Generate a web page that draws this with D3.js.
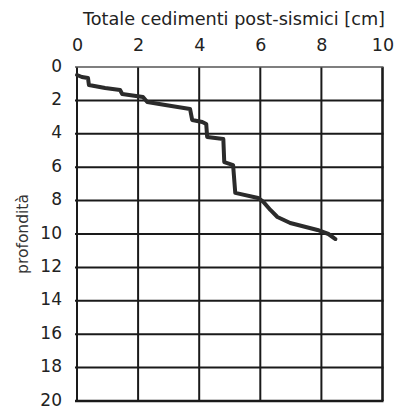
<!DOCTYPE html>
<html>
<head>
<meta charset="utf-8">
<script src="https://cdn.jsdelivr.net/npm/d3@7"></script>
<style>
html,body{margin:0;padding:0;background:#fff;}
svg{display:block;}
</style>
</head>
<body>
<svg id="chart" width="403" height="410"></svg>
<script>
// Data
const xTicks = [0, 2, 4, 6, 8, 10];
const yTicks = [0, 2, 4, 6, 8, 10, 12, 14, 16, 18, 20];
const settlement = [0, 0.16, 0.36, 0.39, 0.92, 1.41, 1.48, 2.16, 2.3, 2.89, 3.7, 3.77, 4.1, 4.23, 4.26, 4.79, 4.82, 5.11, 5.18, 5.93, 6.1, 6.33, 6.56, 6.98, 7.87, 8.23, 8.46];
const depth      = [0.48, 0.6, 0.66, 1.08, 1.26, 1.38, 1.62, 1.8, 2.1, 2.28, 2.51, 3.17, 3.29, 3.41, 4.19, 4.31, 5.69, 5.87, 7.54, 7.84, 8.08, 8.56, 8.98, 9.34, 9.76, 10.0, 10.3];
const xTitle = "Totale cedimenti post-sismici [cm]";
const yTitle = "profondità";

const svg = d3.select("#chart");
const x = d3.scaleLinear().domain([0, 10]).range([77, 382.5]);
const y = d3.scaleLinear().domain([0, 20]).range([67, 401]);

const ink = "#1a1a1a";
const font = "DejaVu Sans, sans-serif";

// grid
const g = svg.append("g");
g.selectAll("line.v").data(xTicks).join("line")
  .attr("x1", d => x(d)).attr("x2", d => x(d))
  .attr("y1", y(0)).attr("y2", y(20))
  .attr("stroke", ink).attr("stroke-width", d => (d === 10 ? 2.6 : 2));
g.selectAll("line.h").data(yTicks).join("line")
  .attr("x1", x(0) - 2).attr("x2", x(10) + 1)
  .attr("y1", d => y(d)).attr("y2", d => y(d))
  .attr("stroke", d => d === 0 ? "#555" : ink)
  .attr("stroke-width", d => (d === 20 ? 2.6 : d === 0 ? 1.4 : 2));

// axes (labels only)
const xAxis = d3.axisTop(x).tickValues(xTicks).tickSize(0).tickPadding(0).tickFormat(d3.format("d"));
const gx = svg.append("g").attr("transform", "translate(0,51)").call(xAxis);
gx.select(".domain").remove();
gx.selectAll("text").attr("font-family", font).attr("font-size", 17.5).attr("fill", "#222").attr("dy", 0);

const yAxis = d3.axisLeft(y).tickValues(yTicks).tickSize(0).tickPadding(0).tickFormat(d3.format("d"));
const gy = svg.append("g").attr("transform", "translate(62,0)").call(yAxis);
gy.select(".domain").remove();
gy.selectAll("text").attr("font-family", font).attr("font-size", 17).attr("fill", "#222").attr("dy", "0.24em");

// titles
svg.append("text")
  .attr("x", 234).attr("y", 25)
  .attr("text-anchor", "middle")
  .attr("font-family", font).attr("font-size", 17).attr("fill", "#222")
  .attr("textLength", 302).attr("lengthAdjust", "spacingAndGlyphs")
  .text(xTitle);

svg.append("text")
  .attr("transform", "translate(28,234) rotate(-90)")
  .attr("text-anchor", "middle")
  .attr("font-family", font).attr("font-size", 15.5).attr("fill", "#333")
  .text(yTitle);

// curve
const pts = settlement.map((v, i) => [v, depth[i]]);
svg.append("path")
  .datum(pts)
  .attr("fill", "none")
  .attr("stroke", "#2b2b2b")
  .attr("stroke-width", 4)
  .attr("stroke-linejoin", "round")
  .attr("stroke-linecap", "round")
  .attr("d", d3.line().x(d => x(d[0])).y(d => y(d[1])));
</script>
</body>
</html>
